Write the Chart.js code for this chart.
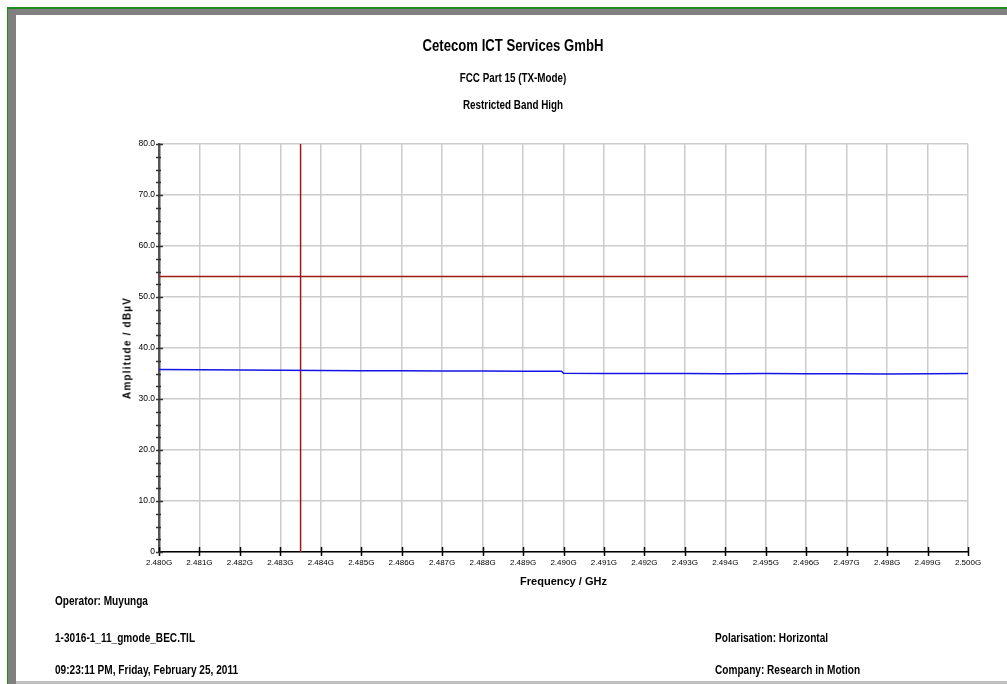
<!DOCTYPE html>
<html>
<head>
<meta charset="utf-8">
<script src="https://cdn.jsdelivr.net/npm/chart.js@4.4.1/dist/chart.umd.min.js"></script>
<style>
  body { margin: 0; width: 1007px; height: 684px; overflow: hidden; position: relative; background: #fff;
         font-family: "Liberation Sans", Arial, sans-serif; font-weight: bold; color: #000; }
  .bar { position: absolute; }
  .txt { position: absolute; white-space: nowrap; line-height: 16px; transform-origin: 0 50%; transform: scaleX(0.84); }
  .ctr { transform-origin: 50% 50%; transform: translateX(-50%) scaleX(0.82); }
  #chart { position: absolute; left: 0; top: 0; }
  #ytitle { position: absolute; left: 127px; top: 348px; transform: translate(-50%, -50%) rotate(-90deg);
            font-size: 10px; letter-spacing: 1.2px; white-space: nowrap; }
</style>
</head>
<body>
<div class="bar" style="left:7px;top:7px;width:1000px;height:2px;background:#1e8c1e"></div>
<div class="bar" style="left:7px;top:7px;width:1px;height:677px;background:#1e8c1e"></div>
<div class="bar" style="left:8px;top:9px;width:999px;height:6px;background:#808080"></div>
<div class="bar" style="left:8px;top:9px;width:8px;height:675px;background:#808080"></div>
<div class="bar" style="left:16px;top:681px;width:991px;height:3px;background:#c0c0c0"></div>

<canvas id="chart" width="1007" height="684"></canvas>

<div class="txt ctr" style="left:513px;top:38px;font-size:16px">Cetecom ICT Services GmbH</div>
<div class="txt ctr" style="left:513px;top:70px;font-size:12px">FCC Part 15 (TX-Mode)</div>
<div class="txt ctr" style="left:513px;top:97px;font-size:12px">Restricted Band High</div>
<div id="ytitle">Amplitude / dBµV</div>

<div class="txt" style="left:55px;top:593px;font-size:12px">Operator: Muyunga</div>
<div class="txt" style="left:55px;top:630px;font-size:12px">1-3016-1_11_gmode_BEC.TIL</div>
<div class="txt" style="left:55px;top:662px;font-size:12px">09:23:11 PM, Friday, February 25, 2011</div>
<div class="txt" style="left:715px;top:630px;font-size:12px">Polarisation: Horizontal</div>
<div class="txt" style="left:715px;top:662px;font-size:12px">Company: Research in Motion</div>

<script>
// measured trace (GHz / dBµV)
const freqGHz = [2.480, 2.481, 2.482, 2.483, 2.484, 2.485, 2.486, 2.487, 2.488, 2.489, 2.48995,
                 2.4900, 2.491, 2.492, 2.493, 2.494, 2.495, 2.496, 2.497, 2.498, 2.499, 2.500];
const amplitude = [35.8, 35.75, 35.7, 35.65, 35.6, 35.55, 35.55, 35.5, 35.5, 35.45, 35.45,
                   35.05, 35.0, 35.0, 35.0, 34.95, 35.0, 34.95, 34.95, 34.9, 34.95, 35.0];

const xMin = 2.480;
const xMax = 2.500;
const yMin = 0;
const yMax = 80;
const limitLevel = 54;     // dBµV
const markerFreq = 2.4835; // GHz, band edge

const tickFont = "'Liberation Sans', Arial";

const crossTicks = {
  id: "crossTicks",
  afterDraw(chart) {
    const { ctx, scales: { x, y } } = chart;
    ctx.save();
    ctx.lineWidth = 1.5;
    ctx.strokeStyle = "#000";
    x.ticks.forEach((t) => {
      const px = Math.round(x.getPixelForValue(t.value)) + 0.5;
      ctx.beginPath();
      ctx.moveTo(px, y.bottom - 5);
      ctx.lineTo(px, y.bottom + 4);
      ctx.stroke();
    });
    ctx.strokeStyle = "#333";
    y.ticks.forEach((t) => {
      const py = Math.round(y.getPixelForValue(t.value)) + 0.5;
      const major = t.value % 10 === 0;
      ctx.beginPath();
      ctx.moveTo(x.left - 3, py);
      ctx.lineTo(x.left + (major ? 4 : 2), py);
      ctx.stroke();
    });
    ctx.restore();
  },
};

new Chart(document.getElementById("chart"), {
  type: "line",
  data: {
    datasets: [
      {
        data: freqGHz.map((f, i) => ({ x: f, y: amplitude[i] })),
        borderColor: "#1414e6",
        borderWidth: 1.5,
        pointRadius: 0,
      },
      {
        data: [{ x: xMin, y: limitLevel }, { x: xMax, y: limitLevel }],
        borderColor: "#9e1a1a",
        borderWidth: 1.5,
        pointRadius: 0,
      },
      {
        data: [{ x: markerFreq, y: yMin }, { x: markerFreq, y: yMax }],
        borderColor: "#9e1a1a",
        borderWidth: 1.5,
        pointRadius: 0,
      },
    ],
  },
  options: {
    responsive: false,
    animation: false,
    layout: { padding: { left: 114, top: 144, right: 39, bottom: 91 } },
    plugins: { legend: { display: false }, tooltip: { enabled: false } },
    scales: {
      x: {
        type: "linear",
        min: xMin,
        max: xMax,
        afterFit: (s) => { s.height = 41; },
        ticks: {
          stepSize: 0.001,
          autoSkip: false,
          maxRotation: 0,
          padding: 6,
          color: "#000",
          font: { family: tickFont, size: 8 },
          callback: (v) => v.toFixed(3) + "G",
        },
        grid: { color: "#cccccc", lineWidth: 1.5, drawTicks: false },
        border: { color: "#000", width: 1.5 },
        title: {
          display: true,
          text: "Frequency / GHz",
          color: "#000",
          padding: { top: 0, bottom: 4 },
          font: { family: tickFont, size: 11, weight: "bold" },
        },
      },
      y: {
        min: yMin,
        max: yMax,
        afterFit: (s) => { s.width = 45; },
        ticks: {
          stepSize: 2.5,
          autoSkip: false,
          padding: 4,
          color: "#000",
          font: { family: tickFont, size: 8.5 },
          callback: (v) => (v % 10 !== 0 ? "" : v === 0 ? "0" : v.toFixed(1)),
        },
        grid: {
          drawTicks: false,
          lineWidth: 1.5,
          color: (c) => (c.tick && c.tick.value % 10 === 0 ? "#cccccc" : "rgba(0,0,0,0)"),
        },
        border: { color: "#555", width: 2.5 },
      },
    },
  },
  plugins: [crossTicks],
});
</script>
</body>
</html>
